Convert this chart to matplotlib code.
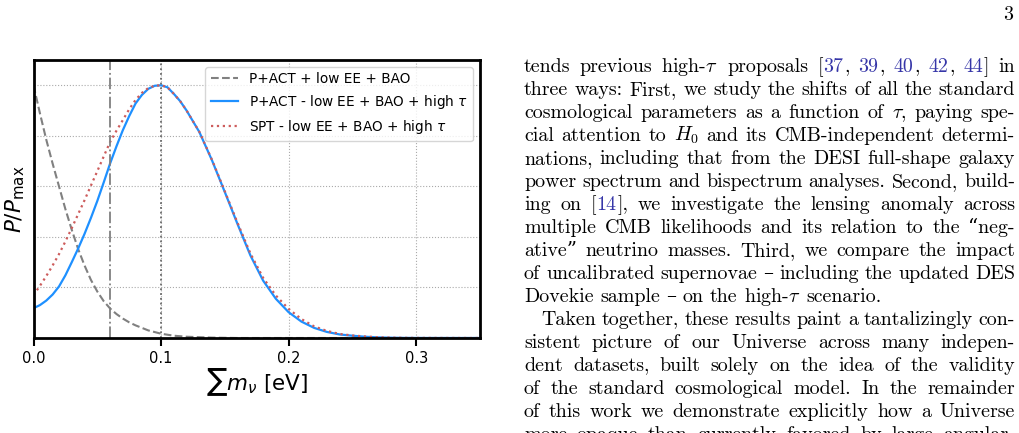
import re
import matplotlib
matplotlib.use("Agg")
import matplotlib.pyplot as plt

# posterior of the summed neutrino mass (P/P_max)
mnu_base = [0.000, 0.005, 0.010, 0.015, 0.020, 0.025, 0.030, 0.035, 0.040, 0.045,
            0.050, 0.055, 0.060, 0.065, 0.070, 0.075, 0.080, 0.090, 0.100, 0.110,
            0.120, 0.140, 0.160, 0.350]
p_base = [1.000, 0.890, 0.785, 0.690, 0.600, 0.510, 0.428, 0.352, 0.287, 0.230,
          0.184, 0.146, 0.117, 0.095, 0.077, 0.062, 0.050, 0.030, 0.017, 0.009,
          0.005, 0.0015, 0.000, 0.000]

mnu_tau = [0.000, 0.005, 0.010, 0.015, 0.020, 0.025, 0.030, 0.035, 0.040, 0.045,
           0.050, 0.055, 0.060, 0.065, 0.070, 0.075, 0.080, 0.085, 0.090, 0.095,
           0.100, 0.105, 0.110, 0.115, 0.120, 0.130, 0.140, 0.150, 0.160, 0.170,
           0.180, 0.190, 0.200, 0.210, 0.220, 0.230, 0.240, 0.250, 0.260, 0.270,
           0.280, 0.290, 0.300, 0.350]
p_act_tau = [0.118, 0.130, 0.148, 0.172, 0.204, 0.248, 0.300, 0.354, 0.412, 0.475,
             0.542, 0.615, 0.690, 0.758, 0.822, 0.878, 0.928, 0.962, 0.986, 0.998,
             1.000, 0.992, 0.966, 0.937, 0.900, 0.815, 0.702, 0.577, 0.450, 0.327,
             0.227, 0.155, 0.102, 0.065, 0.040, 0.024, 0.014, 0.009, 0.005, 0.0025,
             0.0012, 0.0005, 0.0002, 0.0]
p_spt_tau = [0.170, 0.206, 0.245, 0.287, 0.332, 0.382, 0.435, 0.490, 0.545, 0.603,
             0.660, 0.718, 0.775, 0.820, 0.862, 0.905, 0.942, 0.970, 0.989, 0.998,
             1.000, 0.992, 0.966, 0.937, 0.900, 0.816, 0.704, 0.580, 0.455, 0.335,
             0.238, 0.168, 0.115, 0.075, 0.046, 0.028, 0.016, 0.010, 0.006, 0.003,
             0.0015, 0.0007, 0.0003, 0.0]

labels = ["P+ACT + low EE + BAO",
          r"P+ACT - low EE + BAO + high $\tau$",
          r"SPT - low EE + BAO + high $\tau$"]
xticks = [0.0, 0.1, 0.2, 0.3]

# page text next to the figure; {..} marks a citation link
body_lines = [
    "tends previous high-$\\tau$ proposals [{37}, {39}, {40}, {42}, {44}] in",
    "three ways: First, we study the shifts of all the standard",
    "cosmological parameters as a function of $\\tau$, paying spe-",
    "cial attention to $H_0$ and its CMB-independent determi-",
    "nations, including that from the DESI full-shape galaxy",
    "power spectrum and bispectrum analyses. Second, build-",
    "ing on [{14}], we investigate the lensing anomaly across",
    "multiple CMB likelihoods and its relation to the \u201cneg-",
    "ative\u201d neutrino masses. Third, we compare the impact",
    "of uncalibrated supernovae \u2013 including the updated DES",
    "Dovekie sample \u2013 on the high-$\\tau$ scenario.",
    "Taken together, these results paint a tantalizingly con-",
    "sistent picture of our Universe across many indepen-",
    "dent datasets, built solely on the idea of the validity",
    "of the standard cosmological model. In the remainder",
    "of this work we demonstrate explicitly how a Universe",
    "more opaque than currently favored by large angular-",
]
justified = [True] * 10 + [False] + [True] * 6
indented = [False] * 11 + [True] + [False] * 5
page_number = "3"

W, H = 1020, 433
fig = plt.figure(figsize=(W / 100, H / 100), dpi=100)
renderer = fig.canvas.get_renderer()

# ---- the chart ----
ax = fig.add_axes([33.5 / W, 1 - 338 / H, 446.5 / W, 278 / H])
ax.plot(mnu_base, p_base, ls="--", color="gray", lw=1.5, label=labels[0])
ax.plot(mnu_tau, p_act_tau, color="dodgerblue", lw=1.6, label=labels[1])
ax.plot(mnu_tau, p_spt_tau, ls=":", color="indianred", lw=1.6, label=labels[2])
ax.axvline(0.06, color="gray", ls="-.", lw=1.3)
ax.axvline(0.1, color="dimgray", ls=":", lw=1.3)
ax.set_xlim(0, 0.35)
ax.set_ylim(0, 1.1)
ax.set_xticks(xticks)
ax.set_yticks([0.2, 0.4, 0.6, 0.8, 1.0])
ax.set_yticklabels([])
ax.tick_params(axis="y", length=0)
ax.tick_params(axis="x", direction="out", length=6, width=1.5, labelsize=10.5)
ax.grid(ls=":", color="#aaaaaa", lw=0.8)
for s in ax.spines.values():
    s.set_linewidth(2)
ax.set_xlabel(r"$\sum m_\nu$ [eV]", fontsize=15.5, labelpad=0)
ax.set_ylabel(r"$P/P_{\rm max}$", fontsize=15.5, labelpad=1)
ax.legend(loc="upper right", fontsize=9.8)

# ---- the page text, justified word by word ----
cite_blue = "#3636a8"
text_kw = dict(family=["cmr10", "DejaVu Serif"], fontsize=14.4, math_fontfamily="cm",
               va="baseline", ha="left")
x_left, x_right = 524, 1015
space = 6.3

for k, line in enumerate(body_lines):
    y = 72 + 23 * k
    start = x_left + (17 if indented[k] else 0)
    words = []
    for w in line.split(" "):
        pieces = []
        for part in re.split(r"(\{[^}]*\})", w):
            if not part:
                continue
            if part.startswith("{"):
                t = fig.text(0, 0, part[1:-1], color=cite_blue, **text_kw)
            else:
                t = fig.text(0, 0, part, color="black", **text_kw)
            pieces.append((t, t.get_window_extent(renderer).width))
        words.append(pieces)
    widths = [sum(wd for _, wd in p) + 0.6 * (len(p) - 1) for p in words]
    if justified[k] and len(words) > 1:
        gap = (x_right - start - sum(widths)) / (len(words) - 1)
    else:
        gap = space
    x = start
    for pieces, wd in zip(words, widths):
        xx = x
        for t, pw in pieces:
            t.set_position((xx / W, 1 - y / H))
            xx += pw + 0.6
        x += wd + gap

fig.text(1013 / W, 1 - 20 / H, page_number, ha="right", va="baseline",
         family=["cmr10", "DejaVu Serif"], fontsize=14.4)

fig.savefig("out.png", dpi=100)
